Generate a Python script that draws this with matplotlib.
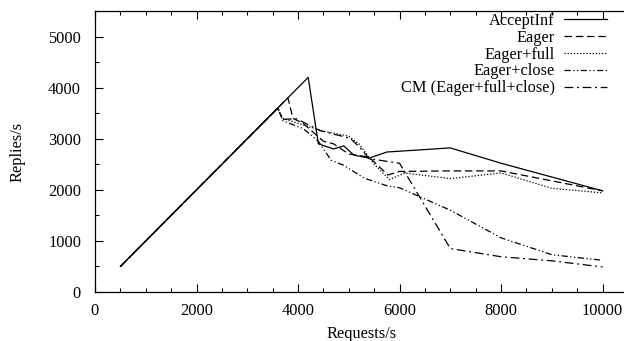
import matplotlib
matplotlib.use("Agg")
import matplotlib.pyplot as plt
from matplotlib.ticker import MultipleLocator

# =========================
# DATA
# =========================

accept_x = [500, 4200, 4400, 4700, 4900, 5100, 5400, 5750, 7000, 8000, 10000]
accept_y = [500, 4200, 2900, 2800, 2860, 2680, 2620, 2740, 2820, 2520, 1980]

eager_x = [500, 3800, 3900, 4100, 4500, 4700, 5000, 5400, 5770, 6000, 7000, 8000, 10000]
eager_y = [500, 3800, 3400, 3300, 2950, 2900, 2700, 2640, 2290, 2360, 2370, 2370, 1980]

full_x = [500, 3600, 3700, 4000, 4500, 5000, 5200, 5500, 5800, 6100, 7000, 8000, 9000, 10000]
full_y = [500, 3600, 3400, 3300, 3150, 3050, 2900, 2500, 2200, 2330, 2220, 2330, 2030, 1940]

close_x = [500, 3600, 3700, 4100, 4400, 4650, 4900, 5300, 5750, 6000, 7000, 8000, 9000, 10000]
close_y = [500, 3600, 3350, 3200, 2950, 2580, 2480, 2230, 2080, 2040, 1600, 1060, 730, 620]

cm_x = [500, 3600, 3700, 3970, 4430, 5020, 5200, 5400, 6000, 7000, 8000, 9000, 10000]
cm_y = [500, 3600, 3380, 3390, 3160, 3010, 2850, 2610, 2520, 850, 690, 610, 490]

series = [
    ("AcceptInf", accept_x, accept_y, "-"),
    ("Eager", eager_x, eager_y, (0, (6, 3))),
    ("Eager+full", full_x, full_y, (0, (1, 1.5))),
    ("Eager+close", close_x, close_y, (0, (5, 2, 1, 2, 1, 2))),
    ("CM (Eager+full+close)", cm_x, cm_y, (0, (7, 3, 1.5, 3))),
]

# =========================
# PLOTTING
# =========================

plt.rcParams["font.family"] = ["Liberation Serif", "DejaVu Serif"]
plt.rcParams["font.size"] = 11.8

fig = plt.figure(figsize=(6.24, 3.41), dpi=100)
ax = fig.add_axes([95 / 624, 49 / 341, 533 / 624, 281 / 341])

for label, xs, ys, ls in series:
    ax.plot(xs, ys, color="black", linestyle=ls, linewidth=0.9, label=label)

ax.set_xlim(0, 10500)
ax.set_ylim(0, 5500)
ax.xaxis.set_major_locator(MultipleLocator(2000))
ax.xaxis.set_minor_locator(MultipleLocator(500))
ax.yaxis.set_major_locator(MultipleLocator(1000))
ax.yaxis.set_minor_locator(MultipleLocator(500))
ax.tick_params(which="both", direction="in", top=True, right=False, width=0.8)
ax.tick_params(which="major", length=6)
ax.tick_params(which="minor", length=3)
ax.tick_params(axis="x", which="major", pad=8)
ax.tick_params(axis="y", which="major", pad=10)
for sp in ax.spines.values():
    sp.set_linewidth(0.9)

ax.set_xlabel("Requests/s", labelpad=5)
ax.set_ylabel("Replies/s", labelpad=16)

ax.legend(loc="upper right", bbox_to_anchor=(607 / 624, 1 - 13 / 341),
          bbox_transform=fig.transFigure, frameon=False, markerfirst=False,
          handlelength=2.6, handletextpad=0.6, labelspacing=0.05,
          borderpad=0, borderaxespad=0)

fig.savefig("out.png", dpi=100)
